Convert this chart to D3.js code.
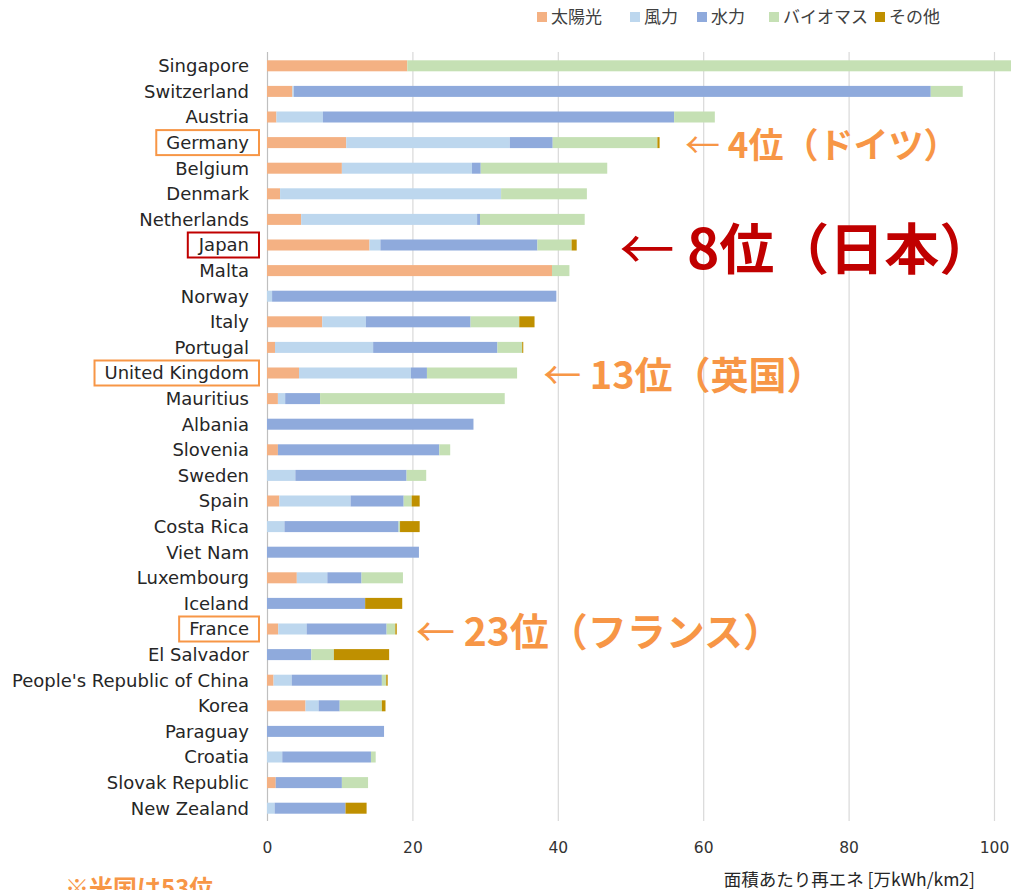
<!DOCTYPE html>
<html lang="ja">
<head>
<meta charset="UTF-8">
<script src="https://cdn.jsdelivr.net/npm/d3@7"></script>
<style>
  * { margin: 0; padding: 0; }
  body { background: #fff; width: 1011px; height: 890px; overflow: hidden; }
  svg { display: block; }
  .cat { font-family: "DejaVu Sans", Verdana, sans-serif; font-size: 18px; fill: #262626; }
  .tick text { font-family: "DejaVu Sans", Verdana, sans-serif; font-size: 15.5px; fill: #333; }
  .jp { font-family: "Noto Sans CJK JP", sans-serif; }
</style>
<title>面積あたり再エネ</title>
</head>
<body>
<div id="chart"></div>
<script>
// categories, top to bottom
var countries = ["Singapore", "Switzerland", "Austria", "Germany", "Belgium", "Denmark",
  "Netherlands", "Japan", "Malta", "Norway", "Italy", "Portugal", "United Kingdom",
  "Mauritius", "Albania", "Slovenia", "Sweden", "Spain", "Costa Rica", "Viet Nam",
  "Luxembourg", "Iceland", "France", "El Salvador", "People's Republic of China",
  "Korea", "Paraguay", "Croatia", "Slovak Republic", "New Zealand"];

var sources = ["太陽光", "風力", "水力", "バイオマス", "その他"];

// 万kWh/km2
var solar   = [19.3, 3.5, 1.3, 10.9, 10.3, 1.8, 4.7, 14.1, 39.2, 0,   7.6, 1.1, 4.4, 1.5, 0,    1.5, 0,   1.7, 0,   0,    4.1, 0,    1.55, 0,   0.9, 5.3, 0,    0,    1.2, 0];
var wind    = [0,    0.2, 6.4, 22.5, 17.9, 30.4, 24.2, 1.5, 0,   0.7, 6.0, 13.5, 15.4, 1.0, 0,   0,   3.9, 9.8, 2.4, 0,    4.2, 0,    3.9, 0,   2.5, 1.8, 0,    2.1,  0,   1.05];
var hydro   = [0,    87.6, 48.3, 5.9, 1.2, 0,   0.4, 21.6, 0,   39.1, 14.4, 17.1, 2.2, 4.8, 28.4, 22.2, 15.3, 7.3, 15.7, 20.9, 4.7, 13.5, 11.0, 6.1, 12.4, 2.9, 16.1, 12.2, 9.1, 9.75];
var biomass = [92,   4.4, 5.6, 14.4, 17.4, 11.8, 14.4, 4.7, 2.4, 0,   6.7, 3.4, 12.4, 25.4, 0,   1.5, 2.7, 1.1, 0.2, 0,    5.7, 0,    1.2, 3.1, 0.6, 5.8, 0,    0.65, 3.6, 0];
var other   = [0,    0,   0,   0.3, 0,    0,   0,    0.7, 0,   0,   2.1, 0.15, 0,  0,   0,    0,   0,   1.1, 2.7, 0,    0,   5.1,  0.2, 7.6, 0.2, 0.5, 0,    0,    0,   2.9];

var xTicks = [0, 20, 40, 60, 80, 100];
var colors = ["#F4B183", "#BDD7EE", "#8FAADC", "#C5E0B4", "#BF9000"];

// highlighted countries and their notes
var noteCountry = ["Germany", "Japan", "United Kingdom", "France"];
var noteRank    = ["4位", "8位", "13位", "23位"];
var noteName    = ["（ドイツ）", "（日本）", "（英国）", "（フランス）"];
var noteAt      = [57.5, 48.5, 38, 20.5];   // x value where the arrow starts
var noteSize    = [35, 55, 38, 39];
var noteColor   = ["#F79646", "#C00000", "#F79646", "#F79646"];

var w = 1011, h = 890;
var plotLeft = 267, plotRight = 1011, plotTop = 53, plotBottom = 821;

var table = countries.map(function(c, i) {
  return { country: c, "太陽光": solar[i], "風力": wind[i], "水力": hydro[i],
           "バイオマス": biomass[i], "その他": other[i] };
});
var series = d3.stack().keys(sources)(table);

var xScale = d3.scaleLinear().domain([0, 100]).range([plotLeft, 994]);
var yScale = d3.scaleBand().domain(countries).range([plotTop, plotBottom])
  .paddingInner(0.57).paddingOuter(0.285);

var svg = d3.select("#chart").append("svg").attr("width", w).attr("height", h);

svg.append("clipPath").attr("id", "plot")
  .append("rect").attr("x", plotLeft).attr("y", 0).attr("width", plotRight - plotLeft).attr("height", h);

// gridlines + tick labels
var xAxis = d3.axisBottom(xScale).tickValues(xTicks).tickSize(-(plotBottom - plotTop + 1)).tickPadding(21);
var gx = svg.append("g").attr("transform", "translate(0," + plotBottom + ")").call(xAxis);
gx.select(".domain").remove();
gx.selectAll(".tick line").attr("stroke", "#d9d9d9").attr("stroke-width", 1.2);
gx.selectAll(".tick").filter(function(d) { return d === 0; }).select("line").attr("stroke", "#bfbfbf");

// bars
svg.append("g").attr("clip-path", "url(#plot)")
  .selectAll("g").data(series).enter().append("g")
  .attr("fill", function(d, i) { return colors[i]; })
  .selectAll("rect").data(function(d) { return d; }).enter().append("rect")
  .attr("x", function(d) { return xScale(d[0]); })
  .attr("y", function(d) { return yScale(d.data.country); })
  .attr("width", function(d) { return Math.max(0, xScale(d[1]) - xScale(d[0])); })
  .attr("height", yScale.bandwidth());

// category labels
var labels = svg.append("g").selectAll("text").data(countries).enter().append("text")
  .attr("class", "cat")
  .attr("x", 249)
  .attr("y", function(d) { return yScale(d) + yScale.bandwidth() / 2; })
  .attr("dy", "0.36em")
  .attr("text-anchor", "end")
  .text(function(d) { return d; });

// boxes round highlighted labels
labels.each(function(d) {
  var k = noteCountry.indexOf(d);
  if (k < 0) return;
  var b = this.getBBox();
  svg.append("rect")
    .attr("x", b.x - 10).attr("y", yScale(d) + yScale.bandwidth() / 2 - 12.5)
    .attr("width", 259 - (b.x - 10)).attr("height", 25)
    .attr("fill", "none").attr("stroke", noteColor[k]).attr("stroke-width", 2);
});

// notes
noteCountry.forEach(function(c, k) {
  var t = svg.append("text").attr("class", "jp")
    .attr("x", xScale(noteAt[k]))
    .attr("y", yScale(c) + yScale.bandwidth() / 2)
    .attr("dy", "0.43em")
    .attr("fill", noteColor[k])
    .attr("font-size", noteSize[k] + "px");
  t.append("tspan").attr("font-weight", 400).text("← ");
  t.append("tspan").attr("font-weight", 700).text(noteRank[k] + noteName[k]);
});

// legend
var legendX = [537, 630, 697, 769, 875];
var lg = svg.append("g").selectAll("g").data(sources).enter().append("g")
  .attr("transform", function(d, i) { return "translate(" + legendX[i] + ",12)"; });
lg.append("rect").attr("width", 10).attr("height", 10)
  .attr("fill", function(d, i) { return colors[i]; });
lg.append("text").attr("class", "jp").attr("x", 14).attr("y", 5).attr("dy", "0.36em")
  .attr("font-size", "17px").attr("fill", "#404040")
  .text(function(d) { return d; });

// axis title
svg.append("text").attr("class", "jp")
  .attr("x", 975).attr("y", 886).attr("text-anchor", "end")
  .attr("font-size", "17.5px").attr("fill", "#262626")
  .text("面積あたり再エネ [万kWh/km2]");

// footnote
svg.append("text").attr("class", "jp")
  .attr("x", 65).attr("y", 897)
  .attr("font-size", "24px").attr("font-weight", 700).attr("fill", "#F79646")
  .text("※米国は53位");
</script>
</body>
</html>
